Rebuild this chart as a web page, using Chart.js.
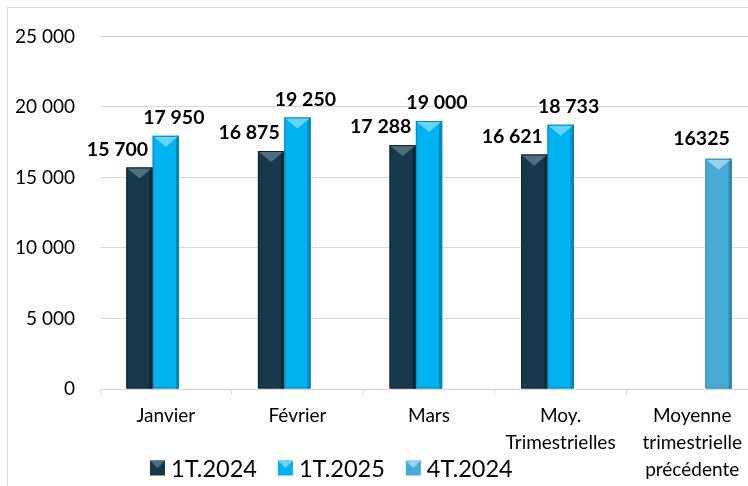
<!DOCTYPE html>
<html>
<head>
<meta charset="utf-8">
<script src="https://cdn.jsdelivr.net/npm/chart.js@4/dist/chart.umd.min.js"></script>
<style>
  html, body { margin: 0; padding: 0; background: #fff; overflow: hidden; }
  #wrap { position: relative; width: 770px; height: 486px; }
</style>
</head>
<body>
<div id="wrap"><canvas id="chart"></canvas></div>
<script>
// Values.
const categories = ['Janvier', 'Février', 'Mars', ['Moy.', 'Trimestrielles'], ['Moyenne', 'trimestrielle', 'précédente']];
const seriesNames = ['1T.2024', '1T.2025', '4T.2024'];
const values1T2024 = [15700, 16875, 17288, 16621, null];
const values1T2025 = [17950, 19250, 19000, 18733, null];
const values4T2024 = [null, null, null, null, 16325];
const yMax = 25000;
const yStep = 5000;

// Style per series: body, top bevel, shaded edge, label offset.
const STYLES = [
  { fill: '#17394c', top: '#4d6f80', edge: '#0d2330', dx: -22, dy: -18, grouped: true },
  { fill: '#00b2f0', top: '#66d4f8', edge: '#0089bb', dx: 8,   dy: -18, grouped: true },
  { fill: '#48abd6', top: '#93d3ee', edge: '#2f86ad', dx: -17, dy: -20, grouped: false },
];
const FONT = 'Lato, "Noto Sans", sans-serif';

function spaced(v) {
  return String(Math.round(v)).replace(/\B(?=(\d{3})+(?!\d))/g, ' ');
}

// light grey frame round the chart, like the spreadsheet chart area
const framePlugin = {
  id: 'frame',
  beforeDraw(chart) {
    const ctx = chart.ctx;
    ctx.save();
    ctx.strokeStyle = '#d9d9d9';
    ctx.lineWidth = 1;
    ctx.strokeRect(7.5, 7.5, chart.width + 20, chart.height + 20);
    ctx.restore();
  },
};

// bevel look on each bar + value labels above them
const barDecor = {
  id: 'barDecor',
  afterDatasetsDraw(chart) {
    const ctx = chart.ctx;
    chart.data.datasets.forEach((ds, di) => {
      const st = STYLES[di];
      const meta = chart.getDatasetMeta(di);
      meta.data.forEach((el, i) => {
        const v = ds.data[i];
        if (v == null) return;
        const p = el.getProps(['x', 'y', 'base', 'width'], true);
        const l = p.x - p.width / 2, r = p.x + p.width / 2;
        ctx.save();
        ctx.fillStyle = st.edge;
        ctx.fillRect(r - 3, p.y, 3, p.base - p.y);
        ctx.fillStyle = st.top;
        ctx.beginPath();
        ctx.moveTo(l, p.y);
        ctx.lineTo(r, p.y);
        ctx.lineTo(p.x, p.y + p.width * 0.42);
        ctx.closePath();
        ctx.fill();
        ctx.strokeStyle = st.edge;
        ctx.lineWidth = 1;
        ctx.strokeRect(l + 0.5, p.y + 0.5, p.width - 1, p.base - p.y - 1);
        ctx.restore();

        ctx.save();
        ctx.font = 'bold 19.5px ' + FONT;
        ctx.fillStyle = '#000';
        ctx.textAlign = 'center';
        ctx.textBaseline = 'middle';
        ctx.fillText(st.grouped ? spaced(v) : String(v), p.x + st.dx, p.y + st.dy);
        ctx.restore();
      });
    });
  },
};

// legend sits low and left, over the axis label area
const legendPlugin = {
  id: 'lowLegend',
  afterDraw(chart) {
    const ctx = chart.ctx;
    let x = 150;
    const y = 468;
    ctx.save();
    ctx.font = '23.5px ' + FONT;
    ctx.textBaseline = 'middle';
    chart.data.datasets.forEach((ds, di) => {
      const st = STYLES[di];
      ctx.fillStyle = st.fill;
      ctx.fillRect(x, y - 7.5, 15, 15);
      ctx.fillStyle = st.top;
      ctx.beginPath();
      ctx.moveTo(x, y - 7.5);
      ctx.lineTo(x + 15, y - 7.5);
      ctx.lineTo(x + 7.5, y);
      ctx.closePath();
      ctx.fill();
      ctx.fillStyle = '#000';
      ctx.fillText(ds.label, x + 21, y + 1);
      x += 21 + ctx.measureText(ds.label).width + 21;
    });
    ctx.restore();
  },
};

new Chart(document.getElementById('chart'), {
  type: 'bar',
  data: {
    labels: categories,
    datasets: [
      { label: seriesNames[0], data: values1T2024, backgroundColor: STYLES[0].fill },
      { label: seriesNames[1], data: values1T2025, backgroundColor: STYLES[1].fill },
      { label: seriesNames[2], data: values4T2024, backgroundColor: STYLES[2].fill },
    ],
  },
  options: {
    responsive: true,
    maintainAspectRatio: false,
    devicePixelRatio: 1,
    animation: false,
    layout: { padding: { top: 34, right: 12, left: 0, bottom: 0 } },
    datasets: { bar: { categoryPercentage: 0.6, barPercentage: 1.0 } },
    plugins: {
      legend: { display: false },
      tooltip: { enabled: false },
    },
    scales: {
      x: {
        grid: { drawOnChartArea: false, drawTicks: true, tickLength: 6, color: '#d9d9d9' },
        border: { display: true, color: '#d9d9d9' },
        ticks: {
          color: '#000', padding: 8, maxRotation: 0, autoSkip: false,
          font: { family: FONT, size: 19, lineHeight: 1.4 },
        },
        afterFit(scale) { scale.height = 97; },
      },
      y: {
        min: 0,
        max: yMax,
        grid: { color: '#d9d9d9', drawTicks: false },
        border: { display: false },
        ticks: {
          stepSize: yStep,
          color: '#000',
          padding: 25,
          font: { family: FONT, size: 19 },
          callback: v => spaced(v),
        },
        afterFit(scale) { scale.width = 100; },
      },
    },
  },
  plugins: [framePlugin, barDecor, legendPlugin],
});
</script>
</body>
</html>
